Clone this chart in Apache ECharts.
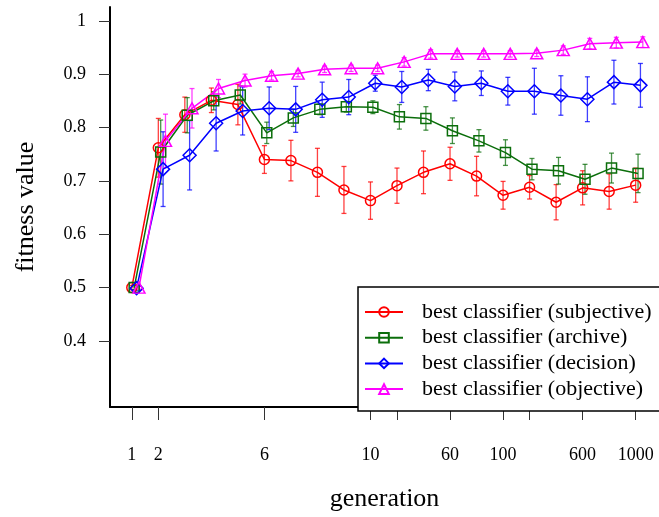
<!DOCTYPE html>
<html>
<head>
<meta charset="utf-8">
<script src="https://cdn.jsdelivr.net/npm/echarts@6/dist/echarts.min.js"></script>
<style>
html,body{margin:0;padding:0;background:#fff;}
#chart{width:659px;height:517px;}
</style>
</head>
<body>
<div id="chart"></div>
<script>
// ---- data ----
const generations = ['1','2','3','4','5','6','7','8','9','10','20','40','60','80','100','200','400','600','800','1000'];
const xTickIndices = [0,1,5,9,10,12,14,15,17,19];
const xLabelIndices = [0,1,5,9,12,14,17,19];
const yTickValues = [0.4,0.5,0.6,0.7,0.8,0.9,1.0];

const seriesNames = ['best classifier (subjective)','best classifier (archive)','best classifier (decision)','best classifier (objective)'];

const subjective    = [0.500,0.762,0.824,0.851,0.843,0.740,0.738,0.716,0.683,0.663,0.691,0.716,0.732,0.709,0.673,0.688,0.660,0.687,0.680,0.692];
const subjectiveErr = [0.004,0.055,0.033,0.023,0.038,0.026,0.038,0.045,0.044,0.035,0.033,0.040,0.031,0.037,0.026,0.022,0.033,0.032,0.033,0.032];

const archive       = [0.500,0.754,0.823,0.850,0.861,0.790,0.818,0.834,0.839,0.838,0.820,0.817,0.794,0.775,0.753,0.722,0.719,0.703,0.724,0.714];
const archiveErr    = [0.004,0.060,0.033,0.017,0.017,0.020,0.016,0.010,0.010,0.012,0.023,0.022,0.024,0.021,0.024,0.020,0.025,0.028,0.028,0.036];

const decision      = [0.499,0.722,0.748,0.808,0.831,0.836,0.834,0.852,0.857,0.883,0.876,0.889,0.877,0.883,0.868,0.868,0.860,0.853,0.885,0.879];
const decisionErr   = [0.005,0.070,0.065,0.052,0.045,0.040,0.043,0.033,0.033,0.015,0.029,0.020,0.027,0.023,0.026,0.043,0.037,0.042,0.041,0.041];

const objective     = [0.500,0.775,0.836,0.873,0.888,0.897,0.901,0.909,0.911,0.911,0.923,0.938,0.938,0.938,0.938,0.939,0.945,0.957,0.959,0.960];
const objectiveErr  = [0.003,0.050,0.037,0.017,0.012,0.008,0.006,0.006,0.006,0.006,0.008,0.008,0.006,0.006,0.006,0.006,0.008,0.010,0.010,0.010];

// ---- styling ----
const FONT = '"Liberation Serif", "Times New Roman", serif';
const colors = ['#ff0000','#0b6e0b','#0000ff','#ff00ff'];
const symbols = ['circle','rect','diamond','triangle'];
const symbolSizes = [10, 10, 13, [12,11]];
const DODGE = 0.09;
const allVals = [subjective, archive, decision, objective];
const allErrs = [subjectiveErr, archiveErr, decisionErr, objectiveErr];

function errRenderer(color) {
  return function (params, api) {
    const x = api.value(0), lo = api.value(1), hi = api.value(2);
    const p1 = api.coord([x, lo]);
    const p2 = api.coord([x, hi]);
    const w = 2.5;
    const style = { stroke: color, lineWidth: 1.3, opacity: 0.75 };
    return {
      type: 'group',
      children: [
        { type: 'line', shape: { x1: p1[0], y1: p1[1], x2: p2[0], y2: p2[1] }, style: style },
        { type: 'line', shape: { x1: p1[0]-w, y1: p1[1], x2: p1[0]+w, y2: p1[1] }, style: style },
        { type: 'line', shape: { x1: p2[0]-w, y1: p2[1], x2: p2[0]+w, y2: p2[1] }, style: style }
      ]
    };
  };
}

const series = [];
allVals.forEach(function (vals, k) {
  const errs = allErrs[k];
  series.push({
    name: seriesNames[k] + ' err',
    type: 'custom',
    renderItem: errRenderer(colors[k]),
    encode: { x: 0, y: [1, 2] },
    data: vals.map(function (v, i) { return [i + k * DODGE, v - errs[i], v + errs[i]]; }),
    z: 3,
    silent: true
  });
});
allVals.forEach(function (vals, k) {
  series.push({
    name: seriesNames[k],
    type: 'line',
    data: vals.map(function (v, i) { return [i + k * DODGE, v]; }),
    symbol: symbols[k],
    symbolSize: symbolSizes[k],
    showAllSymbol: true,
    lineStyle: { color: colors[k], width: 1.5 },
    itemStyle: { color: 'rgba(255,255,255,0)', borderColor: colors[k], borderWidth: 1.5 },
    z: 4
  });
});

const chart = echarts.init(document.getElementById('chart'), null, { renderer: 'canvas' });
chart.setOption({
  animation: false,
  backgroundColor: '#fff',
  grid: { left: 110, right: 0, top: 7, bottom: 104, containLabel: false },
  xAxis: {
    type: 'value',
    min: -0.822,
    max: 19.88,
    name: 'generation',
    nameLocation: 'middle',
    nameGap: 79,
    nameTextStyle: { fontFamily: FONT, fontSize: 26, color: '#000' },
    axisLine: { show: true, onZero: false, lineStyle: { color: '#000', width: 2 } },
    axisTick: { show: true, length: 13, lineStyle: { color: '#333', width: 1 }, customValues: xTickIndices },
    axisLabel: {
      show: true, margin: 39, fontFamily: FONT, fontSize: 18, color: '#000',
      customValues: xLabelIndices,
      formatter: function (v) { return generations[Math.round(v)]; }
    },
    splitLine: { show: false }
  },
  yAxis: {
    type: 'value',
    min: 0.2763,
    max: 1.0258,
    name: 'fitness value',
    nameLocation: 'middle',
    nameGap: 71,
    nameRotate: 90,
    nameTextStyle: { fontFamily: FONT, fontSize: 26, color: '#000' },
    axisLine: { show: true, onZero: false, lineStyle: { color: '#000', width: 2 } },
    axisTick: { show: true, length: 11, lineStyle: { color: '#333', width: 1 }, customValues: yTickValues },
    axisLabel: {
      show: true, margin: 24, fontFamily: FONT, fontSize: 18, color: '#000',
      customValues: yTickValues,
      formatter: function (v) { return String(Math.round(v * 10) / 10); }
    },
    splitLine: { show: false }
  },
  legend: {
    data: seriesNames,
    orient: 'vertical',
    left: 358,
    top: 287,
    backgroundColor: '#fff',
    borderColor: '#000',
    borderWidth: 1.5,
    borderRadius: 0,
    padding: [14, 20, 11, 6],
    itemWidth: 38,
    itemHeight: 12,
    itemGap: 3.7,
    textStyle: { fontFamily: FONT, fontSize: 22, color: '#000', lineHeight: 20, padding: [0, 0, 0, 14] }
  },
  series: series
});
</script>
</body>
</html>
